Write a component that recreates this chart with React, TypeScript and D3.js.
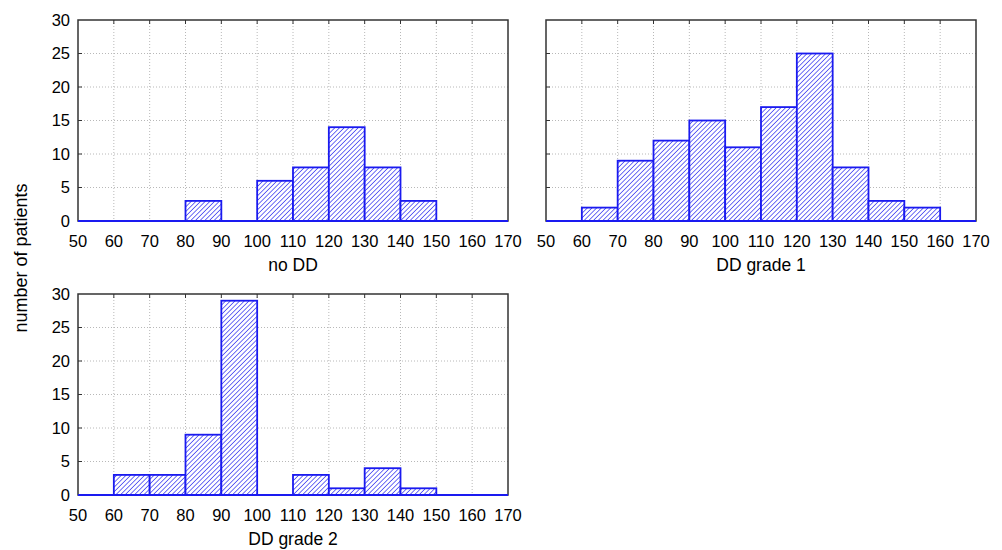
import { useEffect, useRef } from 'react';
import * as d3 from 'd3';

const binStarts = [50, 60, 70, 80, 90, 100, 110, 120, 130, 140, 150, 160];
const noDD = [0, 0, 0, 3, 0, 6, 8, 14, 8, 3, 0, 0];
const ddGrade1 = [0, 2, 9, 12, 15, 11, 17, 25, 8, 3, 2, 0];
const ddGrade2 = [0, 3, 3, 9, 29, 0, 3, 1, 4, 1, 0, 0];
const xTicks = [50, 60, 70, 80, 90, 100, 110, 120, 130, 140, 150, 160, 170];
const yTicks = [0, 5, 10, 15, 20, 25, 30];

const panels = [
  { title: 'no DD', values: noDD, x: 78, y: 20, yLabels: true },
  { title: 'DD grade 1', values: ddGrade1, x: 546, y: 20, yLabels: false },
  { title: 'DD grade 2', values: ddGrade2, x: 78, y: 294, yLabels: true },
];

export default function App() {
  const svgRef = useRef<SVGSVGElement>(null);

  useEffect(() => {
    if (!svgRef.current) return;
    const svg = d3.select(svgRef.current);
    svg.selectAll('*').remove();

    const w = 430;
    const h = 201;
    const font = 'Liberation Sans, Arial, sans-serif';
    const blue = '#1a1af0';

    const defs = svg.append('defs');
    const s = 3.3;
    const pat = defs
      .append('pattern')
      .attr('id', 'hatch')
      .attr('patternUnits', 'userSpaceOnUse')
      .attr('width', s)
      .attr('height', s)
      .attr('patternTransform', 'rotate(45)');
    pat.append('rect').attr('width', s).attr('height', s).attr('fill', '#fff');
    pat
      .append('line')
      .attr('x1', 0)
      .attr('y1', 0)
      .attr('x2', 0)
      .attr('y2', s)
      .attr('stroke', '#2a2af0')
      .attr('stroke-width', 1.35);

    const x = d3.scaleLinear().domain([50, 170]).range([0, w]);
    const y = d3.scaleLinear().domain([0, 30]).range([h, 0]);

    panels.forEach((p) => {
      const g = svg.append('g').attr('transform', `translate(${p.x},${p.y})`);

      // grid
      g.selectAll('.gx')
        .data(xTicks.slice(1, -1))
        .enter()
        .append('line')
        .attr('x1', (d) => x(d))
        .attr('x2', (d) => x(d))
        .attr('y1', 0)
        .attr('y2', h)
        .attr('stroke', '#b8b8b8')
        .attr('stroke-dasharray', '1,2');
      g.selectAll('.gy')
        .data(yTicks.slice(1, -1))
        .enter()
        .append('line')
        .attr('x1', 0)
        .attr('x2', w)
        .attr('y1', (d) => y(d))
        .attr('y2', (d) => y(d))
        .attr('stroke', '#b8b8b8')
        .attr('stroke-dasharray', '1,2');

      // frame
      g.append('rect')
        .attr('width', w)
        .attr('height', h)
        .attr('fill', 'none')
        .attr('stroke', '#333')
        .attr('stroke-width', 1.5);

      // bars
      g.selectAll('.bar')
        .data(p.values)
        .enter()
        .append('rect')
        .attr('x', (_, i) => x(binStarts[i]))
        .attr('y', (d) => y(d))
        .attr('width', (_, i) => x(binStarts[i] + 10) - x(binStarts[i]))
        .attr('height', (d) => y(0) - y(d))
        .attr('fill', 'url(#hatch)')
        .attr('stroke', blue)
        .attr('stroke-width', 1.8);

      // zero-count bins still show their baseline
      g.append('line')
        .attr('x1', x(50))
        .attr('x2', x(170))
        .attr('y1', y(0))
        .attr('y2', y(0))
        .attr('stroke', blue)
        .attr('stroke-width', 2);

      // inward ticks, top and left
      g.selectAll('.tt')
        .data(xTicks.slice(1, -1))
        .enter()
        .append('line')
        .attr('x1', (d) => x(d))
        .attr('x2', (d) => x(d))
        .attr('y1', 0)
        .attr('y2', 4)
        .attr('stroke', '#333');
      g.selectAll('.tl')
        .data(yTicks.slice(1, -1))
        .enter()
        .append('line')
        .attr('x1', 0)
        .attr('x2', 4)
        .attr('y1', (d) => y(d))
        .attr('y2', (d) => y(d))
        .attr('stroke', '#333');

      // x tick labels
      g.selectAll('.xl')
        .data(xTicks)
        .enter()
        .append('text')
        .attr('x', (d) => x(d))
        .attr('y', h + 26)
        .attr('text-anchor', 'middle')
        .attr('font-family', font)
        .attr('font-size', 16.5)
        .attr('fill', '#000')
        .text((d) => d);

      if (p.yLabels) {
        g.selectAll('.yl')
          .data(yTicks)
          .enter()
          .append('text')
          .attr('x', -8)
          .attr('y', (d) => y(d))
          .attr('dy', '0.35em')
          .attr('text-anchor', 'end')
          .attr('font-family', font)
          .attr('font-size', 16.5)
          .attr('fill', '#000')
          .text((d) => d);
      }

      g.append('text')
        .attr('x', w / 2)
        .attr('y', h + 50)
        .attr('text-anchor', 'middle')
        .attr('font-family', font)
        .attr('font-size', 17.5)
        .attr('fill', '#000')
        .text(p.title);
    });

    svg
      .append('text')
      .attr('transform', 'translate(27,258) rotate(-90)')
      .attr('text-anchor', 'middle')
      .attr('font-family', font)
      .attr('font-size', 18)
      .attr('fill', '#000')
      .text('number of patients');
  }, []);

  return (
    <svg
      ref={svgRef}
      width={1002}
      height={550}
      style={{ position: 'absolute', left: 0, top: 0, background: '#fff' }}
    />
  );
}
